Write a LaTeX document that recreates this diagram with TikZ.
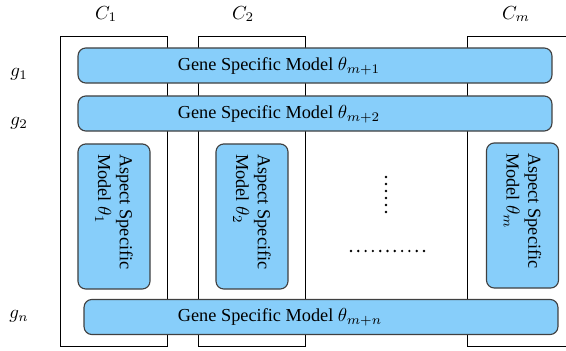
\documentclass[tikz,border=0pt]{standalone}
\usepackage{fontspec}
\setmainfont{Liberation Serif}
\usetikzlibrary{positioning}
\definecolor{modelblue}{RGB}{135,206,250}

\begin{document}
\begin{tikzpicture}[
    x=0.53pt, y=-0.53pt,
    font=\fontsize{9.7}{11.6}\selectfont,
    column/.style={draw, line width=0.5pt, minimum width=57.2pt, minimum height=164.3pt, inner sep=0pt},
    geneband/.style={draw=black!75, fill=modelblue, line width=0.6pt, rounded corners=4.2pt,
      minimum width=251.2pt, minimum height=18.6pt, inner sep=0pt},
    aspectbox/.style={draw=black!75, fill=modelblue, line width=0.6pt, rounded corners=4.2pt,
      rotate=-90, minimum width=76.9pt, minimum height=38.2pt, inner sep=4pt,
      text width=66pt, align=flush left}
  ]
  \useasboundingbox (0,0) rectangle (566,351);
  \clip (0,0) rectangle (566,351);

  % columns
  \node (col1) [column] at (114,191) {};
  \node (col2) [column] at (252,191) {};
  \node (colm) [column, minimum width=59.4pt] at (524,191) {};

  % column labels
  \node (c1) at (106,14) {$C_1$};
  \node (c2) at (243,14) {$C_2$};
  \node (cm) at (516,14) {$C_m$};

  % gene labels
  \node (g1) at (19,74) {$g_1$};
  \node (g2) at (19,123) {$g_2$};
  \node (gn) at (19,316) {$g_n$};

  % gene specific models
  \node (gene1) [geneband] at (315,65.5) {};
  \node (gene1txt) at (279,66) {Gene Specific Model $\theta_{m+1}$};
  \node (gene2) [geneband] at (315,113.5) {};
  \node (gene2txt) at (279,114) {Gene Specific Model $\theta_{m+2}$};
  \node (genen) [geneband] at (321,317) {};
  \node (genentxt) at (280,317.5) {Gene Specific Model $\theta_{m+n}$};

  % aspect specific models
  \node (aspect1) [aspectbox] at (114,216.5) {Aspect Specific\\Model $\theta_1$};
  \node (aspect2) [aspectbox] at (252,216.5) {Aspect Specific\\Model $\theta_2$};
  \node (aspectm) [aspectbox] at (522.5,215.5) {Aspect Specific\\Model $\theta_m$};

  % dots
  \foreach \y in {177,184,...,218} {
    \fill (386,\y) circle [radius=0.7pt];
  }
  \foreach \x in {351,358.3,...,425} {
    \fill (\x,251) circle [radius=0.7pt];
  }
\end{tikzpicture}
\end{document}
